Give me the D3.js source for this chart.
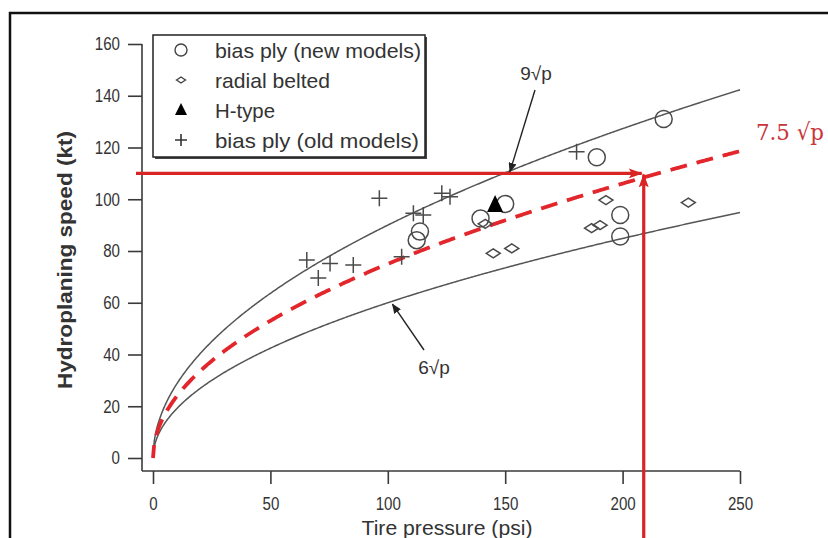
<!DOCTYPE html>
<html><head><meta charset="utf-8">
<script src="https://cdn.jsdelivr.net/npm/d3@7"></script>
<style>
html,body{margin:0;padding:0;background:#fff;overflow:hidden;}
svg{display:block;}
text{font-family:"Liberation Sans",Arial,sans-serif;}
</style></head>
<body>
<svg id="chart" width="828" height="538"></svg>
<script>
// ---------- data ----------
const pressureTicks = [0, 50, 100, 150, 200, 250];
const speedTicks = [0, 20, 40, 60, 80, 100, 120, 140, 160];

const newBiasP = [217.5, 189, 199, 199, 150, 139.5, 113.7, 112.3];
const newBiasV = [131, 116.2, 93.9, 85.6, 98.2, 92.6, 87.5, 84.2];

const radialP = [144.9, 152.8, 192.9, 186.8, 190.4, 228, 141.5];
const radialV = [79.1, 81.0, 99.7, 88.8, 90.0, 98.7, 90.5];

const hTypeP = [145.7];
const hTypeV = [97.8];

const oldBiasP = [96.4, 123, 126.5, 110.9, 115.1, 105.9, 65.5, 75.4, 85.3, 70.4, 180.4];
const oldBiasV = [100.4, 102.3, 101, 94.6, 93.9, 77.8, 76.5, 75.2, 74.6, 69.6, 118.4];

const curveCoefs = [9, 6];          // k * sqrt(p)
const designCoef = 7.5;             // red dashed design curve
const curveSamples = d3.range(0, 250.01, 0.5);

const targetSpeed = 110;            // kt
const targetPressure = 209;         // psi

const legendLabels = ["bias ply (new models)", "radial belted", "H-type", "bias ply (old models)"];

// ---------- setup ----------
const svg = d3.select("#chart");
const x = d3.scaleLinear().domain([0, 250]).range([153, 740]);
const y = d3.scaleLinear().domain([0, 160]).range([458, 44]);
const axisY0 = 471;   // x-axis line position
const axisX0 = 142;   // y-axis line position
const ink = "#3a3a3a";
const red = "#d92424";

// outer frame
svg.append("rect").attr("x", 10).attr("y", 13).attr("width", 830).attr("height", 540)
  .attr("fill", "#fff").attr("stroke", "#111").attr("stroke-width", 2.5);

// ---------- axes ----------
const gx = svg.append("g").attr("transform", `translate(0,${axisY0})`)
  .call(d3.axisBottom(x).tickValues(pressureTicks).tickSize(13).tickPadding(10).tickFormat(d3.format("d")));
gx.select(".domain").remove();
gx.selectAll(".tick line").attr("stroke", ink).attr("stroke-width", 1.6);
gx.selectAll(".tick text").attr("fill", "#333").attr("y", 26)
  .style("font-size", "18px").attr("textLength", d => String(d).length * 8.4).attr("lengthAdjust", "spacingAndGlyphs");
svg.append("line").attr("x1", axisX0).attr("x2", x(250)).attr("y1", axisY0).attr("y2", axisY0)
  .attr("stroke", ink).attr("stroke-width", 1.6);

const gy = svg.append("g").attr("transform", `translate(${axisX0},0)`)
  .call(d3.axisLeft(y).tickValues(speedTicks).tickSize(14).tickPadding(8).tickFormat(d3.format("d")));
gy.select(".domain").remove();
gy.selectAll(".tick line").attr("stroke", ink).attr("stroke-width", 1.6);
gy.selectAll(".tick text").attr("fill", "#333").style("font-size", "18px")
  .attr("textLength", d => String(d).length * 8.4).attr("lengthAdjust", "spacingAndGlyphs");
svg.append("line").attr("x1", axisX0).attr("x2", axisX0).attr("y1", y(160)).attr("y2", axisY0)
  .attr("stroke", ink).attr("stroke-width", 1.6);

// axis titles
svg.append("text").attr("x", 447).attr("y", 535).attr("text-anchor", "middle")
  .attr("fill", "#333").style("font-size", "21px")
  .attr("textLength", 171).attr("lengthAdjust", "spacingAndGlyphs")
  .text("Tire pressure (psi)");
svg.append("text").attr("transform", "translate(72,260) rotate(-90)").attr("text-anchor", "middle")
  .attr("fill", "#333").style("font-size", "21px").style("font-weight", "bold")
  .attr("textLength", 258).attr("lengthAdjust", "spacingAndGlyphs")
  .text("Hydroplaning speed (kt)");

// ---------- curves ----------
const line = k => d3.line().x(p => x(p)).y(p => y(k * Math.sqrt(p)))(curveSamples);
curveCoefs.forEach(k => {
  svg.append("path").attr("d", line(k)).attr("fill", "none")
    .attr("stroke", "#555").attr("stroke-width", 1.5);
});
svg.append("path").attr("d", line(designCoef)).attr("fill", "none")
  .attr("stroke", "#e3262b").attr("stroke-width", 3.8).attr("stroke-dasharray", "17,10")
  .attr("stroke-dashoffset", 4);

// ---------- red guide arrows ----------
const defs = svg.append("defs");
defs.append("marker").attr("id", "redHead").attr("viewBox", "0 0 14 10").attr("refX", 13).attr("refY", 5)
  .attr("markerWidth", 14).attr("markerHeight", 10).attr("markerUnits", "userSpaceOnUse").attr("orient", "auto")
  .append("path").attr("d", "M0,0 L14,5 L0,10 L3,5 Z").attr("fill", red);
defs.append("marker").attr("id", "blackHead").attr("viewBox", "0 0 10 8").attr("refX", 9).attr("refY", 4)
  .attr("markerWidth", 10).attr("markerHeight", 8).attr("markerUnits", "userSpaceOnUse").attr("orient", "auto")
  .append("path").attr("d", "M0,0 L10,4 L0,8 Z").attr("fill", "#222");

svg.append("line").attr("x1", 136).attr("y1", y(targetSpeed)).attr("x2", x(targetPressure) - 2).attr("y2", y(targetSpeed))
  .attr("stroke", red).attr("stroke-width", 3.2).attr("marker-end", "url(#redHead)");
svg.append("line").attr("x1", x(targetPressure)).attr("y1", 545).attr("x2", x(targetPressure)).attr("y2", y(targetSpeed) + 1)
  .attr("stroke", red).attr("stroke-width", 3.2).attr("marker-end", "url(#redHead)");

// ---------- markers ----------
const mk = svg.append("g").attr("fill", "none").attr("stroke", "#4a4a4a").attr("stroke-width", 1.5);
oldBiasP.forEach((p, i) => {
  const cx = x(p), cy = y(oldBiasV[i]);
  mk.append("path").attr("d", `M${cx-8},${cy}H${cx+8}M${cx},${cy-8}V${cy+8}`);
});
radialP.forEach((p, i) => {
  const cx = x(p), cy = y(radialV[i]);
  mk.append("path").attr("d", `M${cx-7},${cy}L${cx},${cy-4.5}L${cx+7},${cy}L${cx},${cy+4.5}Z`);
});
newBiasP.forEach((p, i) => {
  mk.append("circle").attr("cx", x(p)).attr("cy", y(newBiasV[i])).attr("r", 8.5).attr("fill", "none");
});
hTypeP.forEach((p, i) => {
  const cx = x(p), cy = y(hTypeV[i]);
  svg.append("path").attr("d", `M${cx},${cy-10}L${cx+8},${cy+7}L${cx-8},${cy+7}Z`).attr("fill", "#000");
});

// ---------- curve annotations ----------
svg.append("line").attr("x1", 535).attr("y1", 90).attr("x2", x(152)).attr("y2", y(9*Math.sqrt(152)) + 1)
  .attr("stroke", "#222").attr("stroke-width", 1.4).attr("marker-end", "url(#blackHead)");
svg.append("text").attr("x", 536).attr("y", 80).attr("text-anchor", "middle").attr("fill", "#333")
  .style("font-size", "19px").text("9√p");
svg.append("line").attr("x1", 424).attr("y1", 350).attr("x2", x(102)).attr("y2", y(6*Math.sqrt(102)) + 3)
  .attr("stroke", "#222").attr("stroke-width", 1.4).attr("marker-end", "url(#blackHead)");
svg.append("text").attr("x", 434).attr("y", 374).attr("text-anchor", "middle").attr("fill", "#333")
  .style("font-size", "19px").text("6√p");
svg.append("text").attr("x", 756).attr("y", 140).attr("fill", "#c8353a")
  .style("font-family", "'DejaVu Serif','Liberation Serif',serif").style("font-size", "23px")
  .attr("textLength", 68).attr("lengthAdjust", "spacingAndGlyphs")
  .text("7.5 √p");

// ---------- legend ----------
const lg = svg.append("g");
lg.append("rect").attr("x", 155).attr("y", 37).attr("width", 272).attr("height", 122).attr("fill", "#444");
lg.append("rect").attr("x", 153).attr("y", 35).attr("width", 272).attr("height", 122)
  .attr("fill", "#fff").attr("stroke", "#222").attr("stroke-width", 1.5);
const rowY = [50, 80, 110, 140];
const legendLen = [206, 115, 60, 204];
legendLabels.forEach((t, i) => {
  lg.append("text").attr("x", 215).attr("y", rowY[i]).attr("dy", "0.36em").attr("fill", "#333")
    .style("font-size", "21px").attr("textLength", legendLen[i]).attr("lengthAdjust", "spacingAndGlyphs").text(t);
});
const sx = 181;
lg.append("circle").attr("cx", sx).attr("cy", rowY[0]).attr("r", 6).attr("fill", "none").attr("stroke", "#444").attr("stroke-width", 1.4);
lg.append("path").attr("d", `M${sx-4.5},${rowY[1]}L${sx},${rowY[1]-3}L${sx+4.5},${rowY[1]}L${sx},${rowY[1]+3}Z`)
  .attr("fill", "none").attr("stroke", "#444").attr("stroke-width", 1.4);
lg.append("path").attr("d", `M${sx},${rowY[2]-7}L${sx+6},${rowY[2]+5}L${sx-6},${rowY[2]+5}Z`).attr("fill", "#000");
lg.append("path").attr("d", `M${sx-6},${rowY[3]}H${sx+6}M${sx},${rowY[3]-6}V${rowY[3]+6}`)
  .attr("stroke", "#333").attr("stroke-width", 1.6);
</script>
</body></html>
